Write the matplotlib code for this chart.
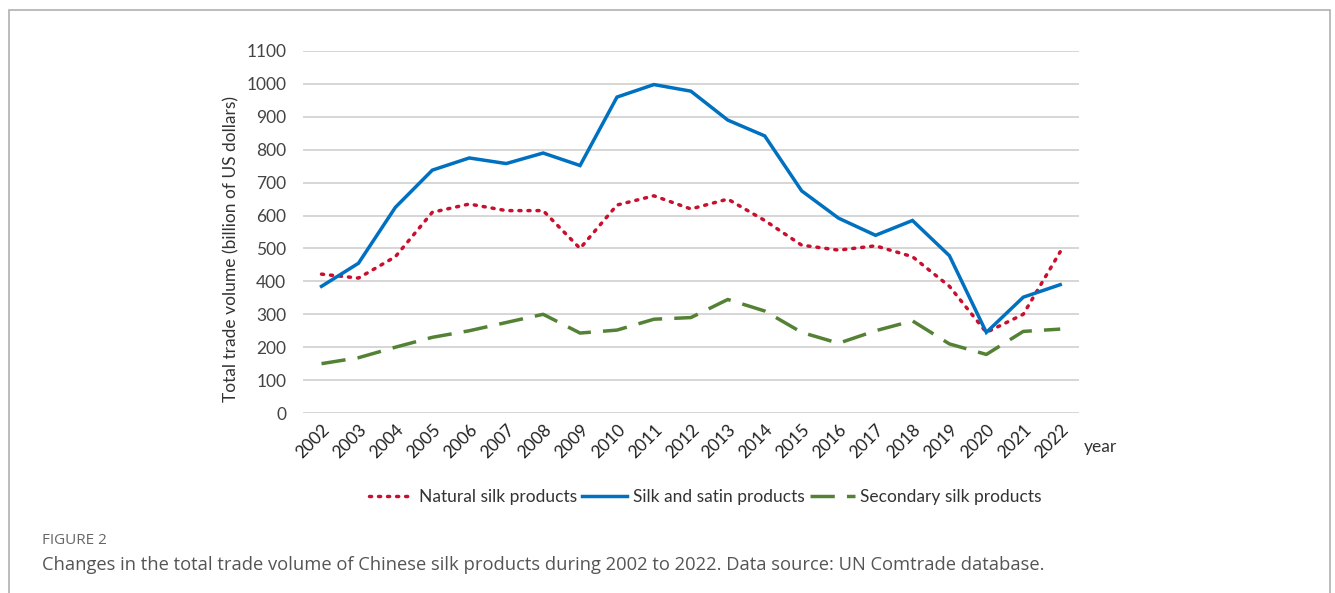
import matplotlib.pyplot as plt
from matplotlib.patches import Rectangle

years = [str(y) for y in range(2002, 2023)]
natural_silk = [422, 410, 475, 610, 635, 615, 615, 500, 632, 660, 620,
                650, 585, 510, 495, 508, 475, 385, 245, 300, 490]
silk_satin = [385, 455, 625, 738, 775, 758, 790, 752, 960, 998, 978,
              890, 842, 675, 592, 540, 585, 478, 245, 352, 390]
secondary_silk = [150, 168, 200, 230, 250, 275, 300, 243, 252, 285, 290,
                  345, 310, 245, 212, 250, 280, 210, 178, 248, 255]
yticks = list(range(0, 1101, 100))

plt.rcParams['font.family'] = ['Lato', 'DejaVu Sans']

fig = plt.figure(figsize=(13.35, 5.93), dpi=100)
fig.patches.append(Rectangle((9 / 1335, -0.05), 1321 / 1335, 1.05 - 10 / 593,
                             transform=fig.transFigure, fill=False,
                             edgecolor='#b0b0b0', linewidth=1.2))

ax = fig.add_axes([0.227, 0.3035, 0.581, 0.6105])
x = list(range(len(years)))

ax.plot(x, natural_silk, color='#C8102E', linewidth=2.5, linestyle=(0, (0.6, 2.0)),
        dash_capstyle='round', label='Natural silk products')
ax.plot(x, silk_satin, color='#0070C0', linewidth=2.5, label='Silk and satin products',
        solid_joinstyle='miter')
ax.plot(x, secondary_silk, color='#548235', linewidth=2.5, linestyle=(0, (7, 3.5)),
        label='Secondary silk products')

ax.set_xlim(-0.5, len(years) - 0.5)
ax.set_ylim(0, 1100)
ax.set_yticks(yticks)
ax.set_xticks(x)
ax.set_xticklabels(years, rotation=45, ha='right', va='top', rotation_mode='anchor',
                   fontsize=12.5, color='#222222')
ax.tick_params(axis='y', labelsize=12.5, labelcolor='#444444', length=0, pad=12)
ax.tick_params(axis='x', length=0, pad=6)
ax.grid(axis='y', color='#d0d0d0', linewidth=1.2)
ax.set_axisbelow(True)
for s in ax.spines.values():
    s.set_visible(False)

ax.set_ylabel('Total trade volume (billion of US dollars)', fontsize=12.5, color='#333333')
ax.yaxis.set_label_coords(-0.082, 0.453)
fig.text(1084 / 1335, 1 - 447 / 593, 'year', fontsize=12.5, color='#333333', va='center')

fig.legend(loc='center', bbox_to_anchor=(705 / 1335, 1 - 497 / 593), ncol=3, frameon=False,
           fontsize=12.5, handlelength=2.6, handletextpad=0.3, columnspacing=0.3,
           labelcolor='#333333')

fig.text(42 / 1335, 1 - 541 / 593, 'FIGURE 2', fontsize=11, color='#666666',
         family=['Open Sans', 'DejaVu Sans'], va='center')
fig.text(42 / 1335, 1 - 565 / 593,
         'Changes in the total trade volume of Chinese silk products during 2002 to 2022. '
         'Data source: UN Comtrade database.',
         fontsize=13.2, color='#555555', family=['Open Sans', 'DejaVu Sans'], va='center')

fig.savefig('out.png', dpi=100)
